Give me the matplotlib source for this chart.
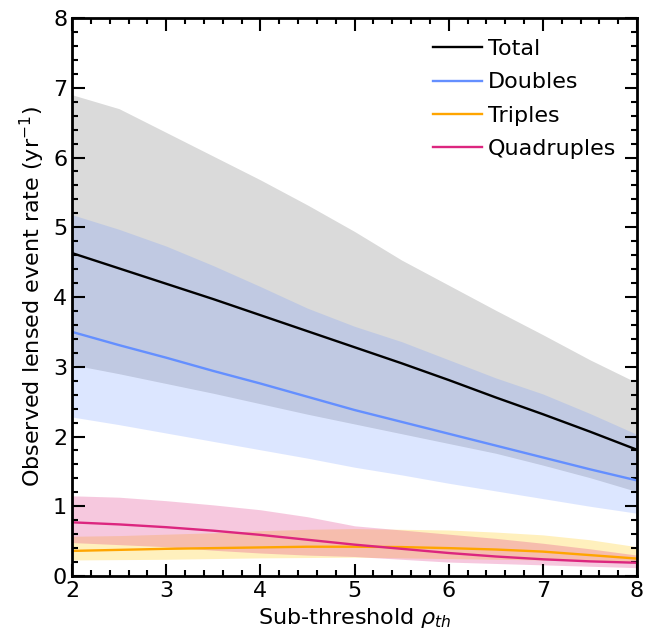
import numpy as np
import matplotlib
matplotlib.use("Agg")
import matplotlib.pyplot as plt
from matplotlib.ticker import MultipleLocator

rho = [2.0, 2.5, 3.0, 3.5, 4.0, 4.5, 5.0, 5.5, 6.0, 6.5, 7.0, 7.5, 8.0]

total_med = [4.63, 4.41, 4.19, 3.97, 3.74, 3.51, 3.28, 3.05, 2.81, 2.56, 2.32, 2.07, 1.81]
total_hi = [6.90, 6.70, 6.36, 6.02, 5.68, 5.32, 4.94, 4.53, 4.17, 3.81, 3.46, 3.10, 2.77]
total_lo = [3.03, 2.90, 2.76, 2.62, 2.47, 2.32, 2.18, 2.04, 1.90, 1.76, 1.59, 1.41, 1.21]

doubles_med = [3.50, 3.31, 3.13, 2.94, 2.76, 2.57, 2.38, 2.21, 2.04, 1.87, 1.70, 1.53, 1.37]
doubles_hi = [5.18, 4.97, 4.73, 4.45, 4.15, 3.84, 3.58, 3.36, 3.10, 2.84, 2.61, 2.33, 2.03]
doubles_lo = [2.28, 2.17, 2.05, 1.93, 1.81, 1.69, 1.56, 1.45, 1.33, 1.22, 1.11, 1.00, 0.90]

triples_med = [0.36, 0.375, 0.39, 0.40, 0.41, 0.42, 0.42, 0.415, 0.40, 0.38, 0.35, 0.30, 0.25]
triples_hi = [0.57, 0.58, 0.60, 0.62, 0.65, 0.67, 0.68, 0.67, 0.66, 0.63, 0.59, 0.52, 0.42]
triples_lo = [0.23, 0.235, 0.24, 0.25, 0.26, 0.265, 0.27, 0.26, 0.25, 0.24, 0.23, 0.215, 0.20]

quads_med = [0.77, 0.74, 0.70, 0.65, 0.59, 0.52, 0.45, 0.39, 0.33, 0.28, 0.24, 0.21, 0.19]
quads_hi = [1.15, 1.13, 1.08, 1.02, 0.95, 0.85, 0.72, 0.66, 0.60, 0.54, 0.47, 0.39, 0.30]
quads_lo = [0.48, 0.45, 0.42, 0.37, 0.33, 0.30, 0.28, 0.24, 0.20, 0.18, 0.16, 0.14, 0.12]

labels = ["Total", "Doubles", "Triples", "Quadruples"]
colors = ["black", "#648FFF", "#FFA500", "#DC267F"]

fig = plt.figure(figsize=(6.62, 6.36), dpi=100)
ax = fig.add_axes([0.1088, 0.0943, 0.8535, 0.8774])

ax.fill_between(rho, total_lo, total_hi, color="black", alpha=0.145, lw=0)
ax.fill_between(rho, doubles_lo, doubles_hi, color="#648FFF", alpha=0.22, lw=0)
ax.fill_between(rho, triples_lo, triples_hi, color="#FFC800", alpha=0.26, lw=0)
ax.fill_between(rho, quads_lo, quads_hi, color="#DC267F", alpha=0.25, lw=0)

for med, lab, col in zip([total_med, doubles_med, triples_med, quads_med], labels, colors):
    ax.plot(rho, med, color=col, lw=1.7, label=lab)

ax.set_xlim(2, 8)
ax.set_ylim(0, 8)
ax.xaxis.set_major_locator(MultipleLocator(1))
ax.xaxis.set_minor_locator(MultipleLocator(0.2))
ax.yaxis.set_major_locator(MultipleLocator(1))
ax.yaxis.set_minor_locator(MultipleLocator(0.2))
ax.tick_params(which="both", direction="in", top=True, right=True, labelsize=16, width=1.5)
ax.tick_params(which="major", length=9)
ax.tick_params(which="minor", length=4.5)
for s in ax.spines.values():
    s.set_linewidth(2)

ax.set_xlabel(r"Sub-threshold $\rho_{th}$", fontsize=16)
ax.set_ylabel(r"Observed lensed event rate (yr$^{-1}$)", fontsize=16)

ax.legend(loc="upper right", frameon=False, fontsize=16, handlelength=2.2,
          handletextpad=0.25, labelspacing=0.6, borderaxespad=0.55)

fig.savefig("out.png", dpi=100)
